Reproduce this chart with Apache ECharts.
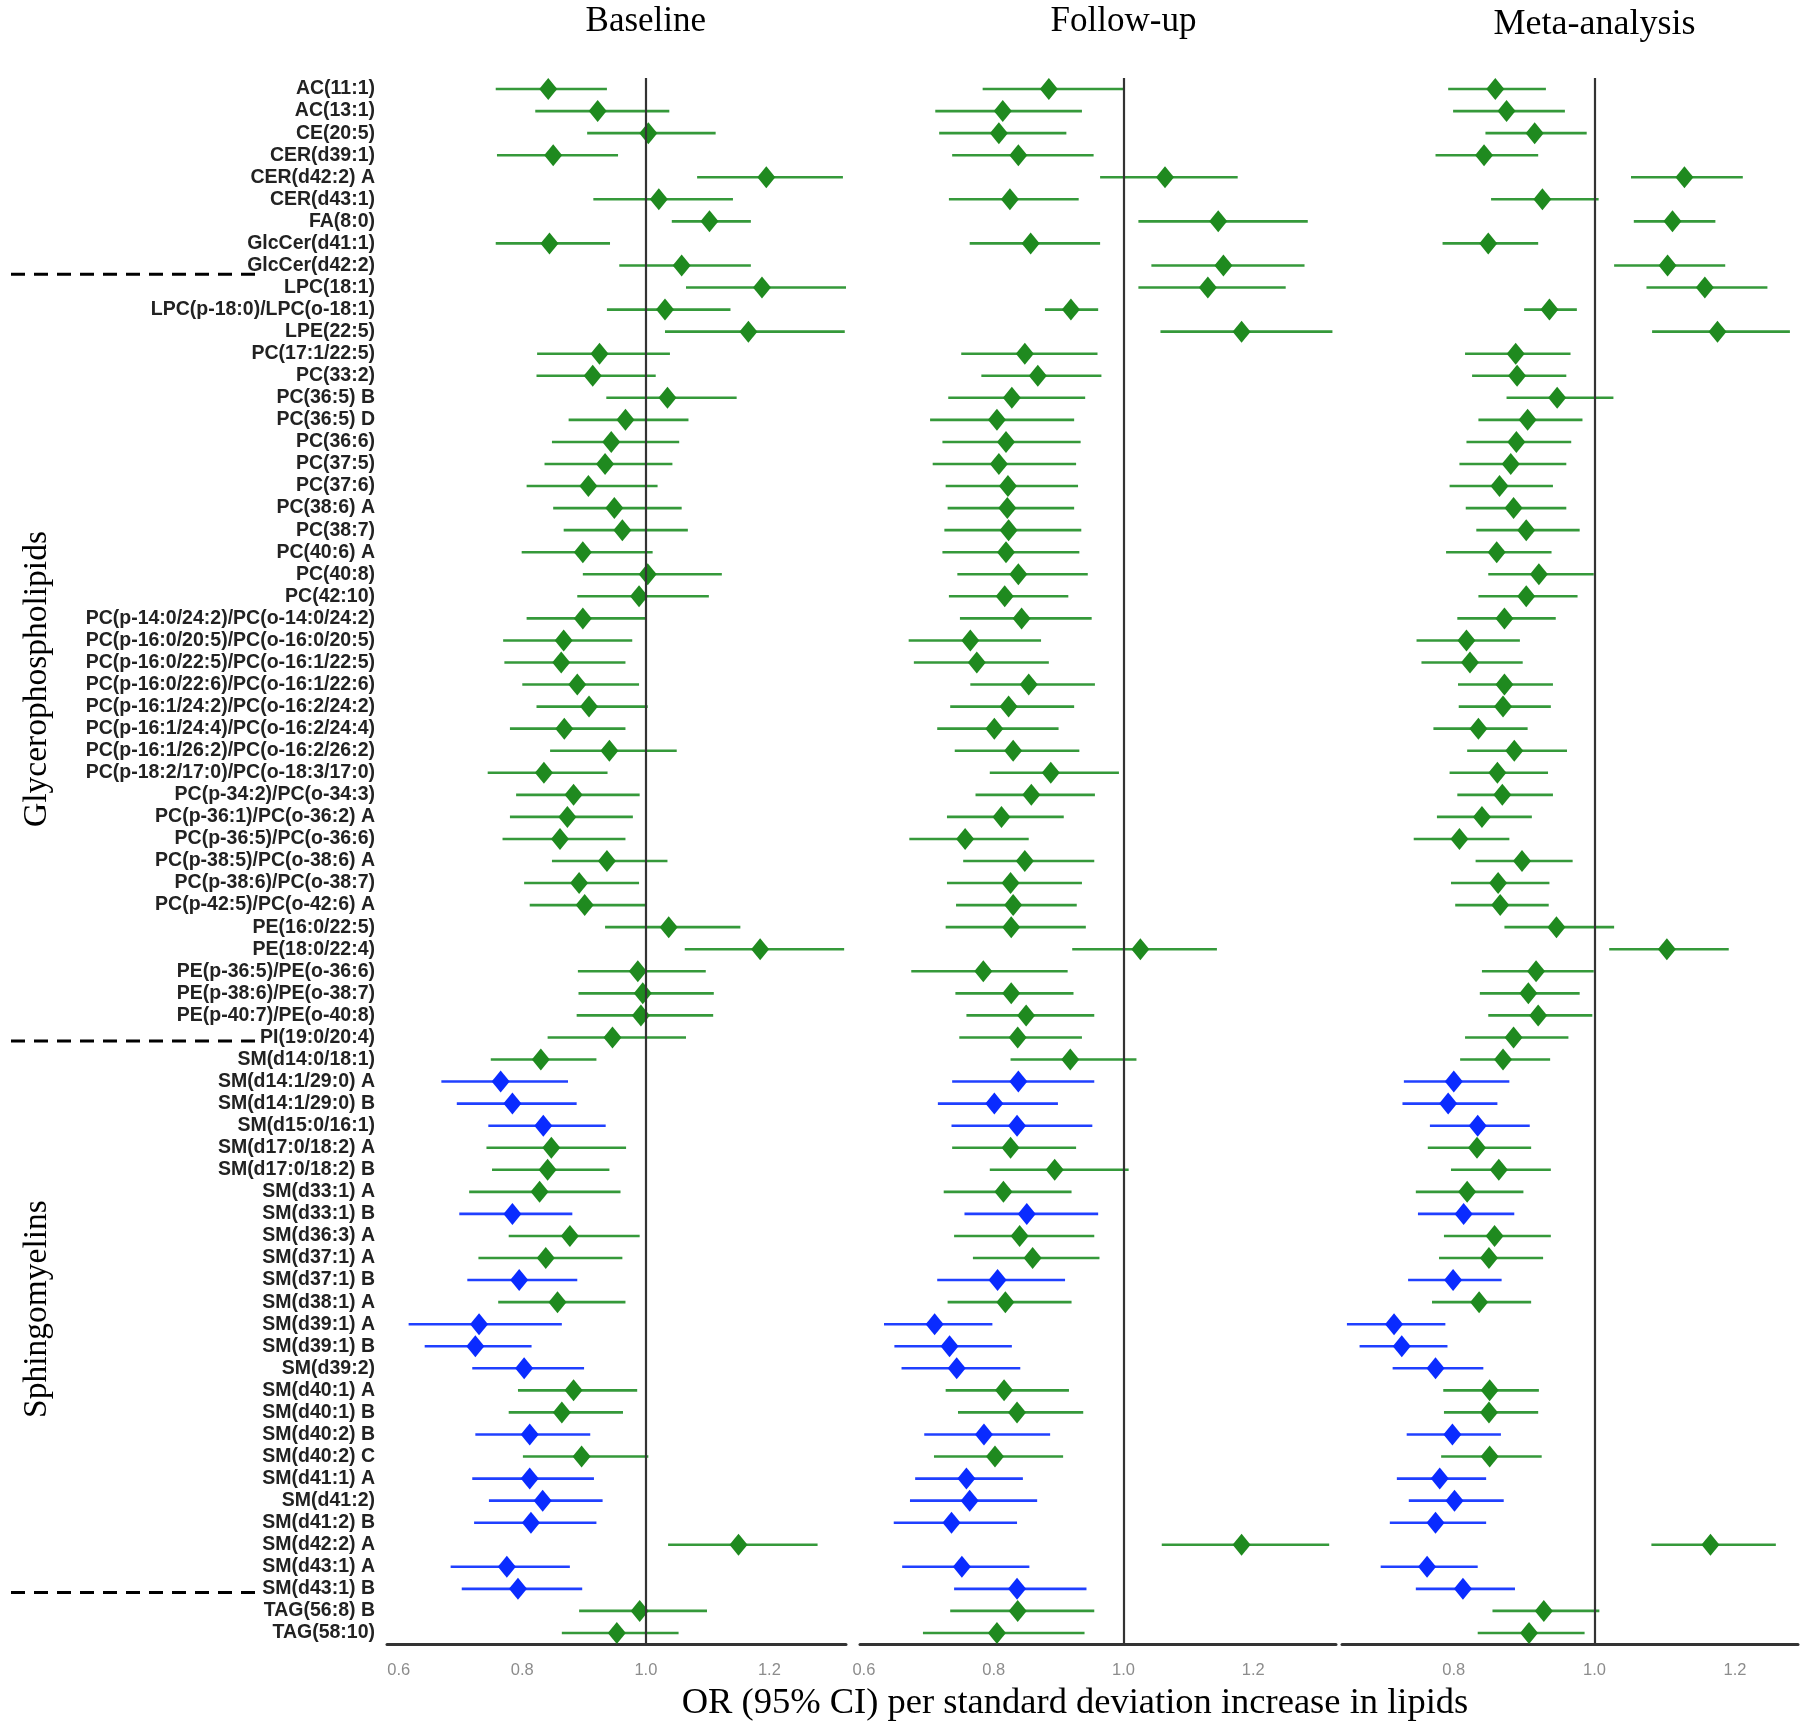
<!DOCTYPE html>
<html><head><meta charset="utf-8">
<script src="https://cdn.jsdelivr.net/npm/echarts@6/dist/echarts.min.js"></script>
<style>html,body{margin:0;padding:0;background:#fff}#c{width:1800px;height:1724px}</style>
</head><body><div id="c"></div>
<script>
const categories = [
'AC(11:1)','AC(13:1)','CE(20:5)','CER(d39:1)','CER(d42:2) A','CER(d43:1)','FA(8:0)','GlcCer(d41:1)','GlcCer(d42:2)',
'LPC(18:1)','LPC(p-18:0)/LPC(o-18:1)','LPE(22:5)','PC(17:1/22:5)','PC(33:2)','PC(36:5) B','PC(36:5) D','PC(36:6)','PC(37:5)','PC(37:6)',
'PC(38:6) A','PC(38:7)','PC(40:6) A','PC(40:8)','PC(42:10)','PC(p-14:0/24:2)/PC(o-14:0/24:2)','PC(p-16:0/20:5)/PC(o-16:0/20:5)',
'PC(p-16:0/22:5)/PC(o-16:1/22:5)','PC(p-16:0/22:6)/PC(o-16:1/22:6)','PC(p-16:1/24:2)/PC(o-16:2/24:2)','PC(p-16:1/24:4)/PC(o-16:2/24:4)',
'PC(p-16:1/26:2)/PC(o-16:2/26:2)','PC(p-18:2/17:0)/PC(o-18:3/17:0)','PC(p-34:2)/PC(o-34:3)','PC(p-36:1)/PC(o-36:2) A','PC(p-36:5)/PC(o-36:6)',
'PC(p-38:5)/PC(o-38:6) A','PC(p-38:6)/PC(o-38:7)','PC(p-42:5)/PC(o-42:6) A','PE(16:0/22:5)','PE(18:0/22:4)','PE(p-36:5)/PE(o-36:6)',
'PE(p-38:6)/PE(o-38:7)','PE(p-40:7)/PE(o-40:8)','PI(19:0/20:4)','SM(d14:0/18:1)','SM(d14:1/29:0) A','SM(d14:1/29:0) B','SM(d15:0/16:1)',
'SM(d17:0/18:2) A','SM(d17:0/18:2) B','SM(d33:1) A','SM(d33:1) B','SM(d36:3) A','SM(d37:1) A','SM(d37:1) B','SM(d38:1) A','SM(d39:1) A',
'SM(d39:1) B','SM(d39:2)','SM(d40:1) A','SM(d40:1) B','SM(d40:2) B','SM(d40:2) C','SM(d41:1) A','SM(d41:2)','SM(d41:2) B','SM(d42:2) A',
'SM(d43:1) A','SM(d43:1) B','TAG(56:8) B','TAG(58:10)'];

// 1 = highlighted (blue) row
const highlight = [0,0,0,0,0,0,0,0,0, 0,0,0,0,0,0,0,0,0,0, 0,0,0,0,0,0,0, 0,0,0,0, 0,0,0,0,0, 0,0,0,0,0,0, 0,0,0,0,1,1,1, 0,0,0,1,0,0,1,0,1, 1,1,0,0,1,0,1,1,1,0, 1,1,0,0];

const panelTitles = ['Baseline','Follow-up','Meta-analysis'];
const xAxisTitle = 'OR (95% CI) per standard deviation increase in lipids';
const groupLabels = ['Glycerophospholipids','Sphingomyelins'];

const baseOR = [0.842,0.922,1.004,0.850,1.195,1.021,1.103,0.844,1.058,1.188,1.031,1.166,0.925,0.914,1.035,0.967,0.944,0.934,0.907,0.949,0.962,0.898,1.003,0.989,0.898,0.867,0.863,0.889,0.908,0.868,0.941,0.835,0.883,0.873,0.861,0.937,0.892,0.901,1.037,1.185,0.987,0.995,0.992,0.946,0.830,0.765,0.784,0.834,0.847,0.841,0.828,0.784,0.877,0.838,0.795,0.857,0.730,0.724,0.803,0.883,0.864,0.812,0.896,0.812,0.833,0.814,1.150,0.775,0.793,0.990,0.953];
const baseLo = [0.757,0.821,0.905,0.759,1.083,0.915,1.042,0.757,0.957,1.065,0.937,1.031,0.824,0.823,0.936,0.875,0.848,0.836,0.807,0.850,0.867,0.799,0.898,0.889,0.807,0.769,0.771,0.800,0.823,0.780,0.845,0.744,0.790,0.780,0.768,0.848,0.803,0.812,0.934,1.063,0.890,0.891,0.888,0.841,0.749,0.669,0.694,0.745,0.742,0.751,0.714,0.698,0.778,0.729,0.711,0.761,0.616,0.642,0.719,0.793,0.778,0.724,0.801,0.719,0.746,0.722,1.036,0.684,0.702,0.892,0.864];
const baseHi = [0.937,1.038,1.113,0.955,1.319,1.141,1.170,0.942,1.170,1.324,1.137,1.322,1.039,1.016,1.147,1.069,1.054,1.043,1.019,1.058,1.068,1.011,1.123,1.102,1.000,0.978,0.967,0.989,1.003,0.967,1.050,0.938,0.990,0.979,0.967,1.035,0.989,1.000,1.153,1.321,1.097,1.110,1.109,1.065,0.920,0.874,0.888,0.935,0.968,0.941,0.959,0.881,0.990,0.962,0.889,0.967,0.864,0.815,0.900,0.986,0.963,0.910,1.004,0.916,0.930,0.920,1.278,0.877,0.897,1.099,1.053];

const followOR = [0.885,0.814,0.808,0.838,1.064,0.825,1.146,0.857,1.154,1.130,0.919,1.182,0.848,0.868,0.828,0.805,0.819,0.808,0.822,0.821,0.823,0.819,0.838,0.817,0.843,0.764,0.774,0.854,0.823,0.801,0.830,0.888,0.858,0.812,0.756,0.848,0.826,0.830,0.827,1.026,0.784,0.827,0.850,0.837,0.918,0.838,0.801,0.836,0.826,0.894,0.815,0.851,0.840,0.860,0.806,0.818,0.709,0.732,0.743,0.816,0.836,0.785,0.802,0.758,0.763,0.735,1.182,0.751,0.836,0.837,0.805];
const followLo = [0.783,0.710,0.716,0.736,0.964,0.731,1.023,0.763,1.043,1.023,0.879,1.057,0.750,0.781,0.730,0.702,0.721,0.706,0.726,0.729,0.724,0.721,0.744,0.731,0.748,0.669,0.677,0.764,0.733,0.713,0.740,0.794,0.772,0.728,0.670,0.753,0.728,0.742,0.726,0.921,0.673,0.741,0.758,0.747,0.826,0.736,0.714,0.735,0.736,0.794,0.723,0.755,0.739,0.768,0.713,0.729,0.631,0.647,0.658,0.726,0.745,0.693,0.708,0.679,0.671,0.646,1.059,0.659,0.739,0.733,0.691];
const followHi = [1.000,0.936,0.912,0.954,1.176,0.931,1.284,0.964,1.279,1.250,0.961,1.322,0.960,0.966,0.941,0.924,0.934,0.927,0.930,0.924,0.935,0.932,0.945,0.915,0.951,0.873,0.885,0.956,0.924,0.900,0.932,0.993,0.956,0.908,0.854,0.955,0.936,0.928,0.942,1.144,0.914,0.923,0.955,0.936,1.020,0.955,0.899,0.952,0.927,1.008,0.920,0.961,0.955,0.963,0.910,0.920,0.798,0.828,0.841,0.916,0.938,0.887,0.907,0.845,0.867,0.836,1.317,0.855,0.943,0.955,0.940];

const metaOR = [0.859,0.875,0.915,0.843,1.128,0.926,1.111,0.849,1.104,1.157,0.936,1.175,0.888,0.890,0.947,0.905,0.889,0.881,0.865,0.885,0.903,0.861,0.921,0.903,0.872,0.818,0.823,0.872,0.870,0.835,0.886,0.862,0.869,0.840,0.808,0.897,0.863,0.866,0.946,1.103,0.917,0.906,0.920,0.885,0.870,0.800,0.792,0.834,0.833,0.864,0.819,0.814,0.858,0.850,0.799,0.836,0.715,0.726,0.774,0.851,0.850,0.798,0.851,0.780,0.801,0.774,1.165,0.762,0.813,0.928,0.907];
const metaLo = [0.792,0.799,0.845,0.774,1.052,0.853,1.056,0.784,1.028,1.074,0.900,1.082,0.816,0.826,0.875,0.835,0.818,0.808,0.794,0.817,0.832,0.789,0.849,0.835,0.805,0.747,0.754,0.806,0.807,0.771,0.819,0.794,0.805,0.776,0.743,0.831,0.796,0.802,0.872,1.021,0.840,0.837,0.849,0.816,0.809,0.729,0.727,0.766,0.763,0.796,0.746,0.749,0.786,0.779,0.735,0.769,0.648,0.666,0.713,0.785,0.786,0.733,0.782,0.719,0.736,0.709,1.081,0.696,0.746,0.855,0.834];
const metaHi = [0.931,0.958,0.989,0.920,1.211,1.006,1.172,0.920,1.186,1.246,0.975,1.278,0.966,0.960,1.027,0.983,0.967,0.960,0.941,0.960,0.979,0.939,0.999,0.976,0.945,0.894,0.898,0.941,0.938,0.905,0.961,0.934,0.941,0.911,0.879,0.969,0.936,0.935,1.028,1.191,0.999,0.979,0.997,0.963,0.937,0.879,0.862,0.908,0.910,0.938,0.899,0.886,0.938,0.927,0.868,0.910,0.788,0.791,0.842,0.921,0.920,0.867,0.925,0.846,0.871,0.846,1.258,0.834,0.887,1.007,0.986];

const tickValues = [[0.6,0.8,1.0,1.2],[0.6,0.8,1.0,1.2],[0.8,1.0,1.2]];

const panels = [
  {or: baseOR, lo: baseLo, hi: baseHi},
  {or: followOR, lo: followLo, hi: followHi},
  {or: metaOR, lo: metaLo, hi: metaHi}
];

const GREEN = '#1f8a1f', GREEN_LINE = '#35993a', BLUE = '#0a2bff', BLUE_LINE = '#2040ff';
const gridBoxes = [{left:387,width:459,min:0.581,max:1.324},{left:860,width:476,min:0.594,max:1.3275},{left:1342,width:456,min:0.641,max:1.2895}];
const TOP = 78, HEIGHT = 1566;

const chart = echarts.init(document.getElementById('c'), null, {renderer:'canvas'});

const grid = gridBoxes.map(g => ({left:g.left, width:g.width, top:TOP, height:HEIGHT, containLabel:false, outerBoundsMode:'none'}));
const xAxis = gridBoxes.map((g,k) => ({
  type:'value', gridIndex:k, min:g.min, max:g.max,
  axisLine:{show:true, onZero:false, lineStyle:{color:'#333', width:3}},
  axisTick:{show:false}, splitLine:{show:false},
  axisLabel:{customValues:tickValues[k], margin:18, color:'#8c8c8c', fontSize:16.5,
    fontFamily:"'Liberation Sans Narrow','Liberation Sans',Arial,sans-serif", formatter:v=>Number(v).toFixed(1)}
}));
const yAxis = gridBoxes.map((g,k) => ({
  type:'category', gridIndex:k, data:categories, inverse:true,
  axisLine:{show:false}, axisTick:{show:false}, splitLine:{show:false},
  axisLabel:{show:k===0, interval:0, margin:12, color:'#222', fontSize:19.5, fontWeight:'bold',
    fontFamily:"'Liberation Sans',Arial,sans-serif"}
}));

const series = [];
panels.forEach((p,k) => {
  series.push({
    type:'custom', xAxisIndex:k, yAxisIndex:k, z:2, animation:false,
    data: p.lo.map((l,i) => [l, p.hi[i], i, highlight[i]]),
    encode:{x:[0,1], y:2},
    renderItem:(params, api) => {
      const a = api.coord([api.value(0), api.value(2)]);
      const b = api.coord([api.value(1), api.value(2)]);
      return {type:'line', shape:{x1:a[0], y1:a[1], x2:b[0], y2:b[1]},
        style:{stroke: api.value(3) ? BLUE_LINE : GREEN_LINE, lineWidth:2.6}};
    }
  });
  series.push({
    type:'scatter', xAxisIndex:k, yAxisIndex:k, z:4, animation:false,
    symbol:'diamond', symbolSize:[18,22],
    data: p.or.map((v,i) => [v, i, highlight[i]]),
    itemStyle:{color: params => params.data[2] ? BLUE : GREEN, opacity:1},
    markLine:{silent:true, symbol:['none','none'], label:{show:false}, animation:false,
      lineStyle:{color:'#333', width:2.2, type:'solid'}, data:[{xAxis:1}]}
  });
});

chart.setOption({backgroundColor:'#fff', animation:false, grid, xAxis, yAxis, series});

// decorations
const p0 = chart.convertToPixel({yAxisIndex:0}, 0);
const p1 = chart.convertToPixel({yAxisIndex:0}, 1);
const sp = p1 - p0;
const rowY = idx => p0 + idx * sp;
const serif = "'Liberation Serif','Times New Roman',serif";
const graphics = [];
const titleY = [22, 22, 25];
const titleSize = [35, 35, 36];
panelTitles.forEach((t,k) => {
  const x = chart.convertToPixel({xAxisIndex:k}, 1.0);
  graphics.push({type:'text', x:x, y:titleY[k], style:{text:t, font:titleSize[k]+'px '+serif, fill:'#000', textAlign:'center', textVerticalAlign:'middle'}});
});
graphics.push({type:'text', x:1075, y:1703, style:{text:xAxisTitle, font:'36.5px '+serif, fill:'#000', textAlign:'center', textVerticalAlign:'middle'}});
graphics.push({type:'text', x:37, y:679, rotation:Math.PI/2, style:{text:groupLabels[0], font:'33.5px '+serif, fill:'#000', textAlign:'center', textVerticalAlign:'middle'}});
graphics.push({type:'text', x:37, y:1309, rotation:Math.PI/2, style:{text:groupLabels[1], font:'33.5px '+serif, fill:'#000', textAlign:'center', textVerticalAlign:'middle'}});
const sepY = [rowY(8) + 0.4*sp, rowY(43) + 0.16*sp, rowY(68) + 0.17*sp];
sepY.forEach(y => graphics.push({type:'line', shape:{x1:11, y1:y, x2:258, y2:y}, style:{stroke:'#000', lineWidth:3, lineDash:[14,9]}}));
chart.setOption({graphic: graphics});
</script></body></html>
